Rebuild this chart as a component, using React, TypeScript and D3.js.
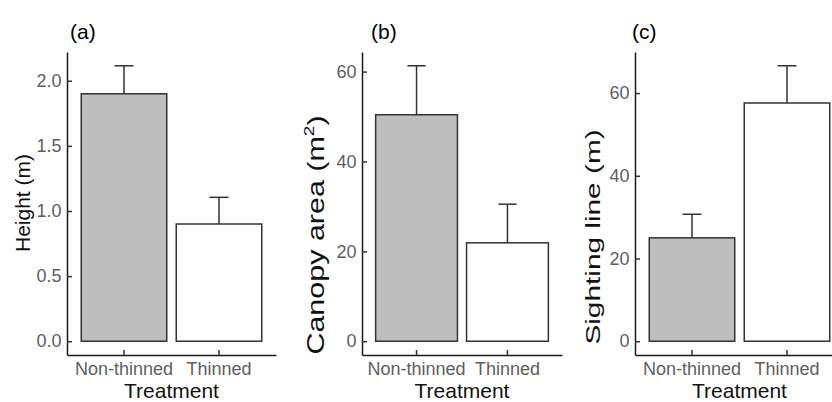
import { useEffect, useRef } from 'react';
import * as d3 from 'd3';

// data
const treatments = ['Non-thinned', 'Thinned'];
const barFills = ['#BEBEBE', '#FFFFFF'];

const heightMean = [1.9, 0.9];
const heightSe = [0.215, 0.205];
const heightTicks = [0, 0.5, 1.0, 1.5, 2.0];

const canopyMean = [50.4, 21.9];
const canopySe = [10.9, 8.6];
const canopyTicks = [0, 20, 40, 60];

const sightMean = [25.0, 57.6];
const sightSe = [5.7, 9.0];
const sightTicks = [0, 20, 40, 60];

const panelTags = ['(a)', '(b)', '(c)'];

const FONT = '"Liberation Sans", Arial, Helvetica, sans-serif';

const App = () => {
  const ref = useRef<SVGSVGElement | null>(null);

  useEffect(() => {
    const W = 832;
    const H = 402;
    const top = 52;
    const bottom = 355;

    // layout per panel (the y titles of b and c are drawn stretched, as in the source figure)
    const panels = [
      {
        tag: panelTags[0], mean: heightMean, se: heightSe, ticks: heightTicks,
        fmt: d3.format('.1f'), title: 'Height (m)', sup: false, titleSize: 21,
        x0: 67, x1: 276, titleOff: 37.5, titleY: 203, stretch: 1, tagX: 70,
      },
      {
        tag: panelTags[1], mean: canopyMean, se: canopySe, ticks: canopyTicks,
        fmt: d3.format('d'), title: 'Canopy area (m', sup: true, titleSize: 24,
        x0: 362, x1: 562, titleOff: 38.5, titleY: 235, stretch: 1.27, tagX: 371,
      },
      {
        tag: panelTags[2], mean: sightMean, se: sightSe, ticks: sightTicks,
        fmt: d3.format('d'), title: 'Sighting line (m)', sup: false, titleSize: 21,
        x0: 635, x1: 844, titleOff: 35, titleY: 237, stretch: 1.42, tagX: 632,
      },
    ];

    const svg = d3.select(ref.current);
    svg.selectAll('*').remove();

    svg.append('rect').attr('width', W).attr('height', H).attr('fill', '#FFFFFF');

    panels.forEach((p) => {
      const g = svg.append('g');

      const x = d3.scaleBand<string>()
        .domain(treatments)
        .range([p.x0, p.x1])
        .paddingInner(0.1)
        .paddingOuter(0.15);

      const maxV = d3.max(p.mean.map((m, i) => m + p.se[i])) as number;
      const y = d3.scaleLinear()
        .domain([-0.05 * maxV, maxV * 1.05])
        .range([bottom, top]);

      // bars
      g.selectAll('rect.bar')
        .data(treatments)
        .enter().append('rect')
        .attr('class', 'bar')
        .attr('x', d => x(d) as number)
        .attr('width', x.bandwidth())
        .attr('y', (d, i) => y(p.mean[i]))
        .attr('height', (d, i) => y(0) - y(p.mean[i]))
        .attr('fill', (d, i) => barFills[i])
        .attr('stroke', '#333333')
        .attr('stroke-width', 1.5);

      // error bars (upper half only)
      const step = x.step();
      treatments.forEach((t, i) => {
        const cx = (x(t) as number) + x.bandwidth() / 2;
        g.append('line')
          .attr('x1', cx).attr('x2', cx)
          .attr('y1', y(p.mean[i])).attr('y2', y(p.mean[i] + p.se[i]))
          .attr('stroke', '#333333').attr('stroke-width', 1.5);
        g.append('line')
          .attr('x1', cx - step * 0.1).attr('x2', cx + step * 0.1)
          .attr('y1', y(p.mean[i] + p.se[i])).attr('y2', y(p.mean[i] + p.se[i]))
          .attr('stroke', '#333333').attr('stroke-width', 1.5);
      });

      // y axis, ticks pointing inward
      const yAxis = g.append('g')
        .attr('transform', `translate(${p.x0},0)`)
        .call(d3.axisLeft(y).tickValues(p.ticks).tickFormat(p.fmt as any)
          .tickSizeInner(-5).tickSizeOuter(0).tickPadding(5.5));
      yAxis.select('.domain').attr('stroke', '#1a1a1a').attr('stroke-width', 1.5);
      yAxis.selectAll('.tick line').attr('stroke', '#333333').attr('stroke-width', 1.5);
      yAxis.selectAll('.tick text')
        .attr('fill', '#5e5e5e')
        .style('font-family', FONT)
        .style('font-size', '18px');

      // x axis
      const xAxis = g.append('g')
        .attr('transform', `translate(0,${bottom})`)
        .call(d3.axisBottom(x).tickSizeInner(-5).tickSizeOuter(0).tickPadding(7.7));
      xAxis.select('.domain').attr('stroke', '#1a1a1a').attr('stroke-width', 1.5);
      xAxis.selectAll('.tick line').attr('stroke', '#333333').attr('stroke-width', 1.5);
      xAxis.selectAll('.tick text')
        .attr('fill', '#5e5e5e')
        .style('font-family', FONT)
        .style('font-size', '18px');

      // x title
      g.append('text')
        .attr('x', ((x(treatments[0]) as number) + (x(treatments[1]) as number) + x.bandwidth()) / 2)
        .attr('y', 397.5)
        .attr('text-anchor', 'middle')
        .style('font-family', FONT)
        .style('font-size', '21px')
        .attr('fill', '#111111')
        .text('Treatment');

      // y title
      const yt = g.append('text')
        .attr('transform', `translate(${p.x0 - p.titleOff},${p.titleY}) rotate(-90) scale(${p.stretch},1)`)
        .attr('text-anchor', 'middle')
        .style('font-family', FONT)
        .style('font-size', `${p.titleSize}px`)
        .attr('fill', '#111111');
      if (p.sup) {
        yt.append('tspan').text(p.title);
        yt.append('tspan').attr('dy', -10).style('font-size', '15px').text('2');
        yt.append('tspan').attr('dy', 10).text(')');
      } else {
        yt.text(p.title);
      }

      // panel tag
      g.append('text')
        .attr('x', p.tagX)
        .attr('y', 39)
        .style('font-family', FONT)
        .style('font-size', '21px')
        .attr('fill', '#000000')
        .text(p.tag);
    });
  }, []);

  return (
    <svg
      ref={ref}
      width={832}
      height={402}
      style={{ position: 'absolute', left: 0, top: 0, display: 'block' }}
    />
  );
};

export default App;
